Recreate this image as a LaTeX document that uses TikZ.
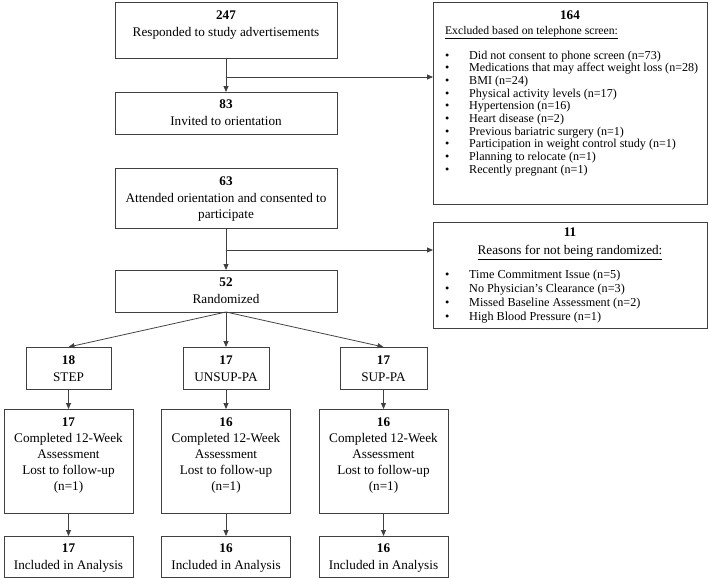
\documentclass[tikz,border=0pt]{standalone}
\usepackage{fontspec}
\setmainfont{Liberation Serif}
\usetikzlibrary{positioning,arrows.meta}

\tikzset{
  box/.style={draw=black!75, line width=1pt, inner sep=0pt, outer sep=0pt},
  lbl/.style={align=center, inner sep=0pt, font=\fontsize{13.2}{16.3}\selectfont},
  lst/.style={align=left, inner sep=0pt},
  arr/.style={draw=black!75, line width=0.8pt, -{Triangle[length=6pt,width=5pt]}},
  ln/.style={draw=black!75, line width=0.8pt}
}
\newcommand{\bul}{\makebox[23pt][l]{\hspace{-1pt}\textbullet}}

\begin{document}
\begin{tikzpicture}[x=1pt,y=-1pt]
\useasboundingbox (0,0) rectangle (709,578);

\node[box, minimum width=222, minimum height=56] (resp) at (226,31) {};
\node[lbl, anchor=north] (resp-t) at ([yshift=-8pt]resp.north) {\textbf{247}\\Responded to study advertisements};
\node[box, minimum width=222, minimum height=42] (inv) at (226,113) {};
\node[lbl, anchor=north] (inv-t) at ([yshift=-8pt]inv.north) {\textbf{83}\\Invited to orientation};
\node[box, minimum width=222, minimum height=60] (att) at (226,198) {};
\node[lbl, anchor=north] (att-t) at ([yshift=-9pt]att.north) {\textbf{63}\\Attended orientation and consented to\\participate};
\node[box, minimum width=222, minimum height=42] (rand) at (226,291) {};
\node[lbl, anchor=north] (rand-t) at ([yshift=-8pt]rand.north) {\textbf{52}\\Randomized};

\node[box, minimum width=274, minimum height=201] (excl) at (570,103.5) {};
\node[lbl, anchor=north] (excl-n) at ([yshift=-8pt]excl.north) {\textbf{164}};
\node[lbl, anchor=north, font=\fontsize{11.7}{15}\selectfont] (excl-h) at (531.5,26) {\underline{Excluded based on telephone screen:}};
\node[lst, anchor=north west, font=\fontsize{12.1}{12.7}\selectfont] (excl-l) at (446,50.5) {%
\bul Did not consent to phone screen (n=73)\\
\bul Medications that may affect weight loss (n=28)\\
\bul BMI (n=24)\\
\bul Physical activity levels (n=17)\\
\bul Hypertension (n=16)\\
\bul Heart disease (n=2)\\
\bul Previous bariatric surgery (n=1)\\
\bul Participation in weight control study (n=1)\\
\bul Planning to relocate (n=1)\\
\bul Recently pregnant (n=1)};

\node[box, minimum width=274, minimum height=106] (nrand) at (570,275) {};
\node[lbl, anchor=north, font=\fontsize{13.2}{18}\selectfont] (nrand-t) at ([yshift=-6pt]nrand.north) {\textbf{11}\\\underline{Reasons for not being randomized:}};
\node[lst, anchor=north west, font=\fontsize{12.2}{14}\selectfont] (nrand-l) at (446,269.5) {%
\bul Time Commitment Issue (n=5)\\
\bul No Physician’s Clearance (n=3)\\
\bul Missed Baseline Assessment (n=2)\\
\bul High Blood Pressure (n=1)};

\node[box, minimum width=85, minimum height=42] (step) at (68.5,368) {};
\node[lbl, anchor=north] (step-t) at ([yshift=-9pt]step.north) {\textbf{18}\\STEP};
\node[box, minimum width=86, minimum height=42] (unsup) at (226,368) {};
\node[lbl, anchor=north] (unsup-t) at ([yshift=-9pt]unsup.north) {\textbf{17}\\UNSUP-PA};
\node[box, minimum width=87, minimum height=42] (sup) at (383.5,368) {};
\node[lbl, anchor=north] (sup-t) at ([yshift=-9pt]sup.north) {\textbf{17}\\SUP-PA};

\node[box, minimum width=129, minimum height=104] (comp1) at (68.5,461) {};
\node[lbl, anchor=north, font=\fontsize{13.2}{16}\selectfont] (comp1-t) at ([yshift=-9pt]comp1.north) {\textbf{17}\\Completed 12-Week\\Assessment\\Lost to follow-up\\(n=1)};
\node[box, minimum width=129, minimum height=104] (comp2) at (226,461) {};
\node[lbl, anchor=north, font=\fontsize{13.2}{16}\selectfont] (comp2-t) at ([yshift=-9pt]comp2.north) {\textbf{16}\\Completed 12-Week\\Assessment\\Lost to follow-up\\(n=1)};
\node[box, minimum width=129, minimum height=104] (comp3) at (383.5,461) {};
\node[lbl, anchor=north, font=\fontsize{13.2}{16}\selectfont] (comp3-t) at ([yshift=-9pt]comp3.north) {\textbf{16}\\Completed 12-Week\\Assessment\\Lost to follow-up\\(n=1)};

\node[box, minimum width=129, minimum height=41] (incl1) at (68.5,556.5) {};
\node[lbl, anchor=north] (incl1-t) at ([yshift=-8pt]incl1.north) {\textbf{17}\\Included in Analysis};
\node[box, minimum width=129, minimum height=41] (incl2) at (226,556.5) {};
\node[lbl, anchor=north] (incl2-t) at ([yshift=-8pt]incl2.north) {\textbf{16}\\Included in Analysis};
\node[box, minimum width=129, minimum height=41] (incl3) at (383.5,556.5) {};
\node[lbl, anchor=north] (incl3-t) at ([yshift=-8pt]incl3.north) {\textbf{16}\\Included in Analysis};

\coordinate (b1) at (226,77);
\coordinate (b2) at (226,250);
\draw[arr] (resp.south) -- (inv.north);
\draw[arr] (b1) -- (b1 -| excl.west);
\draw[arr] (att.south) -- (rand.north);
\draw[arr] (b2) -- (b2 -| nrand.west);

\draw[arr] (rand.south) -- (step.north);
\draw[arr] (rand.south) -- (unsup.north);
\draw[arr] (rand.south) -- (sup.north);

\draw[arr] (step.south) -- (comp1.north);
\draw[arr] (unsup.south) -- (comp2.north);
\draw[arr] (sup.south) -- (comp3.north);
\draw[arr] (comp1.south) -- (incl1.north);
\draw[arr] (comp2.south) -- (incl2.north);
\draw[arr] (comp3.south) -- (incl3.north);
\end{tikzpicture}
\end{document}
